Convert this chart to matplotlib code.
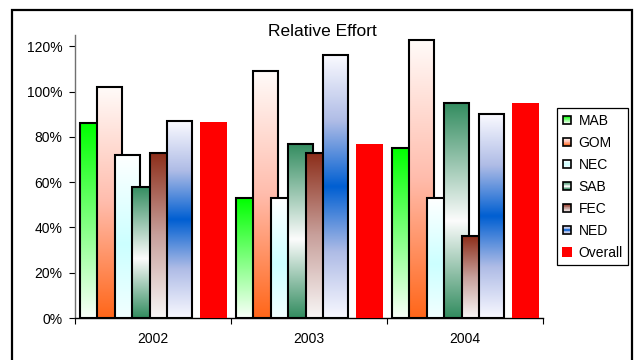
import numpy as np
import matplotlib
matplotlib.use("Agg")
import matplotlib.pyplot as plt
from matplotlib.patches import Rectangle
from matplotlib.legend_handler import HandlerBase
from matplotlib.ticker import FuncFormatter, FixedLocator

plt.rcParams["font.family"] = ["Liberation Sans", "DejaVu Sans"]

# ---- data -------------------------------------------------------------
years = ["2002", "2003", "2004"]
regions = ["MAB", "GOM", "NEC", "SAB", "FEC", "NED"]
mab = [86, 53, 75]
gom = [102, 109, 123]
nec = [72, 53, 53]
sab = [58, 77, 95]
fec = [73, 73, 36]
ned = [87, 116, 90]
overall = [86.5, 77, 95]
y_ticks = [0, 20, 40, 60, 80, 100, 120]

region_values = [mab, gom, nec, sab, fec, ned]

# ---- styles: vertical gradients, listed top -> bottom -------------------
gradients = {
    "MAB": [(0.0, (0, 255, 0)), (1.0, (250, 255, 250))],
    "GOM": [(0.0, (255, 251, 249)), (0.5, (255, 188, 172)), (1.0, (255, 102, 25))],
    "NEC": [(0.0, (255, 255, 255)), (0.55, (204, 255, 255)), (1.0, (242, 255, 255))],
    "SAB": [(0.0, (50, 140, 95)), (0.55, (252, 252, 252)), (1.0, (50, 140, 95))],
    "FEC": [(0.0, (140, 45, 25)), (0.5, (200, 160, 155)), (1.0, (248, 246, 246))],
    "NED": [(0.0, (250, 250, 255)), (0.25, (175, 188, 230)), (0.5, (0, 95, 210)),
            (0.75, (175, 188, 230)), (1.0, (248, 248, 255))],
}
overall_color = "#ff0000"


def gradient_colors(stops, n):
    pos = np.array([s[0] for s in stops])
    cols = np.array([s[1] for s in stops], dtype=float) / 255.0
    t = np.linspace(0, 1, n)
    return np.stack([np.interp(t, pos, cols[:, c]) for c in range(3)], axis=1)


# ---- figure & axes ----------------------------------------------------
W, H = 637, 360
fig = plt.figure(figsize=(W / 100, H / 100), dpi=100)
ax = fig.add_axes([75 / W, (H - 318) / H, (543 - 75) / W, (318 - 35) / H])

first_offset = 0.032
step = 0.1115
bar_w = 0.160
overall_offset = 0.801
overall_w = 0.173

for i, (name, vals) in enumerate(zip(regions, region_values)):
    cols = gradient_colors(gradients[name], 256)
    img = cols.reshape(256, 1, 3)
    for k, v in enumerate(vals):
        x0 = k + first_offset + i * step
        ax.imshow(img, extent=(x0, x0 + bar_w, 0, v), aspect="auto",
                  interpolation="bilinear", zorder=2 + i)
        ax.bar(x0, v, width=bar_w, align="edge", facecolor="none",
               edgecolor="black", linewidth=1.5, zorder=2.5 + i)

for k, v in enumerate(overall):
    ax.bar(k + overall_offset, v, width=overall_w, align="edge",
           color=overall_color, edgecolor="none", zorder=10)

ax.set_xlim(0, len(years))
ax.set_ylim(0, 125)

# axes styling
for s in ("top", "right"):
    ax.spines[s].set_visible(False)
ax.spines["left"].set_color("#707070")
ax.spines["left"].set_linewidth(1.0)
ax.spines["bottom"].set_color("black")
ax.spines["bottom"].set_linewidth(1.0)

ax.yaxis.set_major_locator(FixedLocator(y_ticks))
ax.yaxis.set_major_formatter(FuncFormatter(lambda v, p: f"{v:.0f}%"))
ax.tick_params(axis="y", direction="out", length=4, width=0.8, pad=5,
               labelsize=10, colors="black")

ax.set_xticks(np.arange(len(years) + 1))
ax.set_xticklabels([])
ax.set_xticks(np.arange(len(years)) + 0.5, minor=True)
ax.set_xticklabels(years, minor=True)
ax.tick_params(axis="x", which="major", direction="out", length=4, width=0.8)
ax.tick_params(axis="x", which="minor", length=0, pad=10, labelsize=10)

fig.text(322 / W, 1 - 32 / H, "Relative Effort", ha="center", va="center",
         fontsize=12.5)


# ---- legend with gradient swatches ------------------------------------
class GradientSwatch(HandlerBase):
    def __init__(self, stops=None, color=None, size=0.85):
        super().__init__()
        self.stops = stops
        self.color = color
        self.size = size

    def create_artists(self, legend, orig_handle, xdescent, ydescent,
                       width, height, fontsize, trans):
        s = height * self.size
        x0 = -xdescent + (width - s) / 2
        y0 = -ydescent + (height - s) / 2
        arts = []
        if self.stops is None:
            arts.append(Rectangle((x0 - 1, y0 - 1), s + 2, s + 2,
                                  facecolor=self.color, edgecolor="none",
                                  transform=trans))
            return arts
        n = 12
        cols = gradient_colors(self.stops, n)
        for j in range(n):
            arts.append(Rectangle((x0, y0 + s - (j + 1) * s / n), s, s / n,
                                  facecolor=cols[j], edgecolor="none",
                                  linewidth=0, transform=trans))
        arts.append(Rectangle((x0, y0), s, s, facecolor="none",
                              edgecolor="black", linewidth=1.2,
                              transform=trans))
        return arts


handles = [Rectangle((0, 0), 1, 1) for _ in range(len(regions) + 1)]
labels = regions + ["Overall"]
handler_map = {h: GradientSwatch(stops=gradients[n]) for h, n in zip(handles, regions)}
handler_map[handles[-1]] = GradientSwatch(color=overall_color)

leg = fig.legend(handles, labels, handler_map=handler_map,
                 loc="upper left", bbox_to_anchor=(557 / W, 1 - 108 / H),
                 bbox_transform=fig.transFigure, fontsize=10,
                 handlelength=0.65, handleheight=0.65, handletextpad=0.5,
                 labelspacing=0.58, borderpad=0.4, borderaxespad=0,
                 fancybox=False, shadow=False, framealpha=1)
leg.get_frame().set_edgecolor("black")
leg.get_frame().set_linewidth(0.9)

# outer chart border
fig.patches.append(Rectangle((12 / W, -0.02), (632 - 12) / W, 1 - 10 / H + 0.02,
                             transform=fig.transFigure, fill=False,
                             edgecolor="black", linewidth=1.6, clip_on=False))

fig.savefig("out.png", dpi=100)
